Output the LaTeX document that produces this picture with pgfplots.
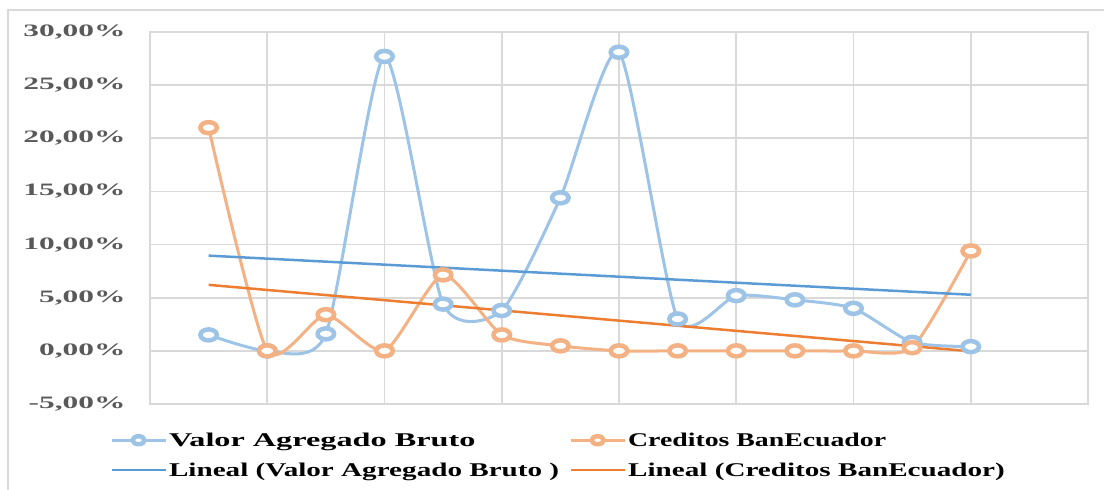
\documentclass[border=0pt]{standalone}
\usepackage{pgfplots}
\pgfplotsset{compat=1.18}
\usepackage{fontspec}
\setmainfont{Liberation Serif}
\newfontfamily\tickfont[FakeStretch=1.8]{Liberation Serif}
\newfontfamily\legfontA[FakeStretch=1.66]{Liberation Serif}
\newfontfamily\legfontB[FakeStretch=1.43]{Liberation Serif}
\newfontfamily\legfontC[FakeStretch=1.50]{Liberation Serif}
\definecolor{gridgray}{HTML}{D9D9D9}
\definecolor{labelgray}{HTML}{595959}
\definecolor{vabline}{HTML}{9DC3E6}
\definecolor{credline}{HTML}{F4B183}
\definecolor{vabtrend}{HTML}{5B9BD5}
\definecolor{credtrend}{HTML}{ED7D31}
\begin{document}
\begin{tikzpicture}
\useasboundingbox (0,0) rectangle (1104bp,-490bp);
\draw[gridgray, line width=1.5bp] (8bp,-700bp) -- (8bp,-10bp) -- (1300bp,-10bp);
\begin{axis}[
  at={(150bp,-404bp)}, anchor=south west,
  scale only axis, width=938bp, height=372bp,
  xmin=0, xmax=16, ymin=-5, ymax=30,
  xtick={0,2,...,16}, xticklabels={},
  ytick={-5,0,5,10,15,20,25,30},
  grid=major,
  grid style={gridgray, line width=1.8bp},
  axis line style={gridgray, line width=1.8bp},
  major tick length=0pt,
  yticklabel={\pgfmathprintnumber[fixed, fixed zerofill, precision=2, use comma, assume math mode=true]{\tick}\%},
  yticklabel style={font=\tickfont\bfseries\fontsize{17.5}{20}\selectfont, text=labelgray, xshift=-21bp},
  legend columns=2,
  legend style={draw=none, fill=none, at={(axis description cs:-0.046,-0.066)}, anchor=north west,
    font=\bfseries\fontsize{19.5}{24}\selectfont, text=black,
    /tikz/every even column/.append style={column sep=8bp},
    row sep=11bp},
  legend cell align=left,
  legend image code/.code={\draw[mark repeat=2, mark phase=2, mark size=4bp] plot coordinates {(0bp,0bp) (27bp,0bp) (54bp,0bp)};},
]
\addplot[vabline, line width=3bp, smooth, tension=0.38, mark=*,
  mark options={fill=white, draw=vabline, line width=4.5bp, xscale=1.5}, mark size=5.5bp]
  coordinates {(1,1.5) (2,0) (3,1.6) (4,27.7) (5,4.4) (6,3.8) (7,14.4) (8,28.1) (9,3.0) (10,5.2) (11,4.8) (12,4.0) (13,0.8) (14,0.4)};
\addlegendentry{\legfontA\bfseries Valor Agregado Bruto}
\addplot[credline, line width=3bp, smooth, tension=0.38, mark=*,
  mark options={fill=white, draw=credline, line width=4.5bp, xscale=1.5}, mark size=5.5bp]
  coordinates {(1,21.0) (2,0) (3,3.4) (4,0) (5,7.15) (6,1.5) (7,0.47) (8,0) (9,0) (10,0) (11,0) (12,0) (13,0.3) (14,9.4)};
\addlegendentry{\legfontB\bfseries Creditos BanEcuador}
\addplot[vabtrend, line width=2.5bp, no marks] coordinates {(1,8.96) (14,5.28)};
\addlegendentry{\legfontC\bfseries Lineal (Valor Agregado Bruto )}
\addplot[credtrend, line width=2.5bp, no marks] coordinates {(1,6.21) (14,-0.04)};
\addlegendentry{\legfontC\bfseries Lineal (Creditos BanEcuador)}
\end{axis}
\end{tikzpicture}
\end{document}
